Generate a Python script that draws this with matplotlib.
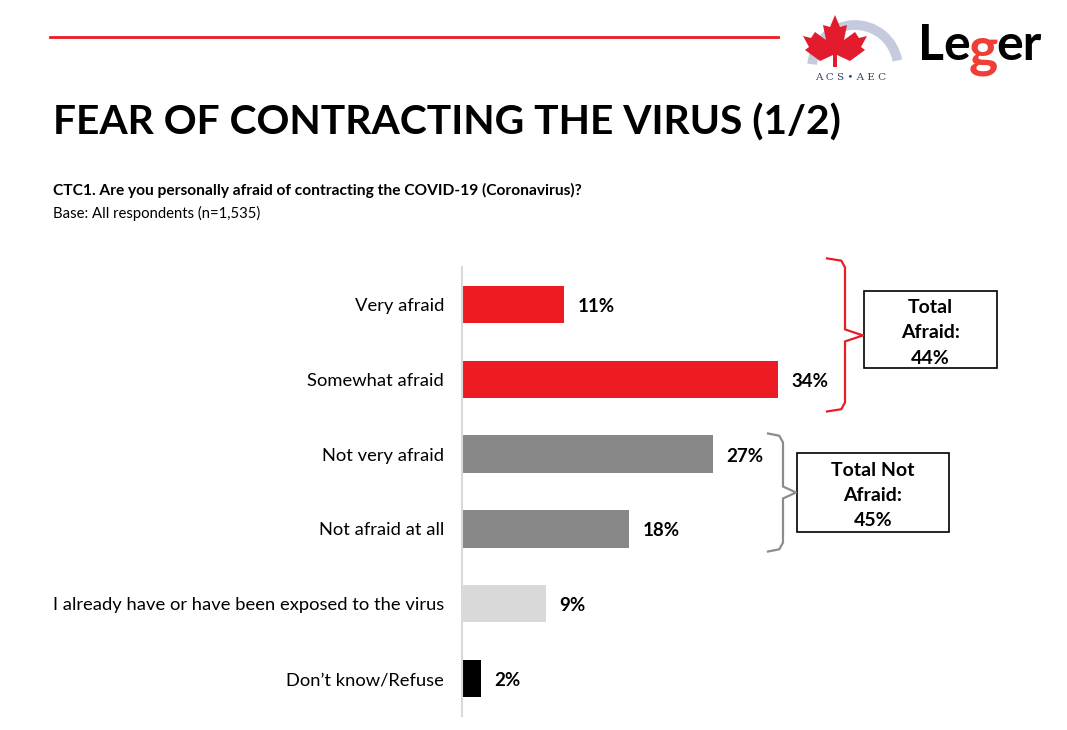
import matplotlib
matplotlib.use("Agg")
import matplotlib.pyplot as plt
from matplotlib.patches import Rectangle, Polygon, Arc

categories = ["Very afraid", "Somewhat afraid", "Not very afraid", "Not afraid at all",
              "I already have or have been exposed to the virus", "Don\u2019t know/Refuse"]
values = [11, 34, 27, 18, 9, 2]
bar_colors = ["#ed1c24", "#ed1c24", "#878787", "#878787", "#d9d9d9", "#000000"]
total_afraid = 44
total_not_afraid = 45

FONT = "Lato"
plt.rcParams["font.family"] = [FONT, "DejaVu Sans"]

W, H = 1067, 730
fig = plt.figure(figsize=(W / 100, H / 100), dpi=100)
fig.patch.set_facecolor("white")

def fx(px):
    return px / W

def fy(py):
    return 1 - py / H

# header line and title
fig.add_artist(plt.Line2D([fx(50), fx(778)], [fy(37), fy(37)], color="#ed1c24", lw=2))
fig.text(fx(53), fy(123), "FEAR OF CONTRACTING THE VIRUS (1/2)", fontsize=29.3,
         fontweight="bold", va="center", ha="left")
fig.text(fx(53), fy(190), "CTC1. Are you personally afraid of contracting the COVID-19 (Coronavirus)?",
         fontsize=11.2, fontweight="bold", va="center")
fig.text(fx(53), fy(213), "Base: All respondents (n=1,535)", fontsize=10.7, va="center")

# logos (simplified)
renderer = fig.canvas.get_renderer()
x_cur = 918
for part, col, dy in [("Le", "black", 0), ("g", "#ee3e36", 6), ("er", "black", 0)]:
    t = fig.text(fx(x_cur), fy(45 + dy), part, fontsize=36 if part != "g" else 40,
                 fontweight="bold", color=col, va="center", ha="left")
    x_cur += t.get_window_extent(renderer).width - 2

fig.add_artist(Arc((8.55, (H - 68) / 100), 0.86, 0.86, theta1=10, theta2=175,
                   transform=fig.dpi_scale_trans, color="#c5cadf", lw=7))
fig.text(fx(851), fy(77), "A C S \u2022 A E C", fontsize=7.5, family="DejaVu Serif",
         color="#334466", va="center", ha="center")
leaf = [(835, 15), (840, 27), (847, 25), (844, 40), (855, 32), (859, 38), (867, 36), (861, 47),
        (865, 50), (850, 61), (837, 55), (837, 67), (833, 67), (833, 55), (820, 61), (805, 50),
        (809, 47), (803, 36), (811, 38), (815, 32), (826, 40), (823, 25), (830, 27)]
fig.add_artist(Polygon([(fx(x), fy(y)) for x, y in leaf], closed=True,
                       facecolor="#e21b2d", edgecolor="none", transform=fig.transFigure))

# bar chart
ax = fig.add_axes([fx(462), 1 - 716 / H, 558 / W, 449 / H])
y = list(range(len(categories)))
ax.barh(y, values, height=0.5, color=bar_colors)
ax.set_xlim(0, 60)
ax.set_ylim(len(categories) - 0.5, -0.5)
ax.set_yticks(y)
ax.set_yticklabels(categories, fontsize=13.2)
ax.tick_params(axis="y", length=0, pad=13)
ax.set_xticks([])
for s in ["top", "right", "bottom"]:
    ax.spines[s].set_visible(False)
ax.spines["left"].set_color("#d9d9d9")
ax.spines["left"].set_linewidth(1.5)

for yi, v in zip(y, values):
    ax.annotate(f"{v}%", (v, yi), xytext=(9.5, -1.5), textcoords="offset points",
                fontsize=13.5, fontweight="bold", va="center", ha="left")

def bracket(x0, x1, x2, top, bottom, mid, color):
    xs = [x0, x1 - 0.4, x1, x1, x2, x1, x1, x1 - 0.4, x0]
    ys = [top, top + 0.03, top + 0.12, mid - 0.08, mid, mid + 0.08, bottom - 0.12, bottom - 0.03, bottom]
    ax.plot(xs, ys, color=color, lw=1.6, clip_on=False, solid_joinstyle="round")

def px_x(px):
    return (px - 462) / 558 * 60

def px_y(py):
    return (py - 305) / 74.8

bracket(px_x(827), px_x(845), px_x(863), px_y(259), px_y(412), px_y(336), "#ed1c24")
bracket(px_x(768), px_x(783), px_x(796), px_y(434), px_y(552), px_y(493), "#8c8c8c")

for (l, r, t, b), txt in [((864, 997, 292, 369), f"Total\nAfraid:\n{total_afraid}%"),
                          ((797, 949, 454, 532), f"Total Not\nAfraid:\n{total_not_afraid}%")]:
    ax.add_patch(Rectangle((px_x(l), px_y(b)), px_x(r) - px_x(l), px_y(t) - px_y(b),
                           fill=False, edgecolor="black", lw=1.2, clip_on=False))
    ax.text((px_x(l) + px_x(r)) / 2, (px_y(t) + px_y(b)) / 2 + px_y(308) - px_y(305), txt,
            ha="center", va="center", fontsize=14, fontweight="bold", linespacing=1.6,
            clip_on=False)

fig.savefig("out.png", dpi=100)
